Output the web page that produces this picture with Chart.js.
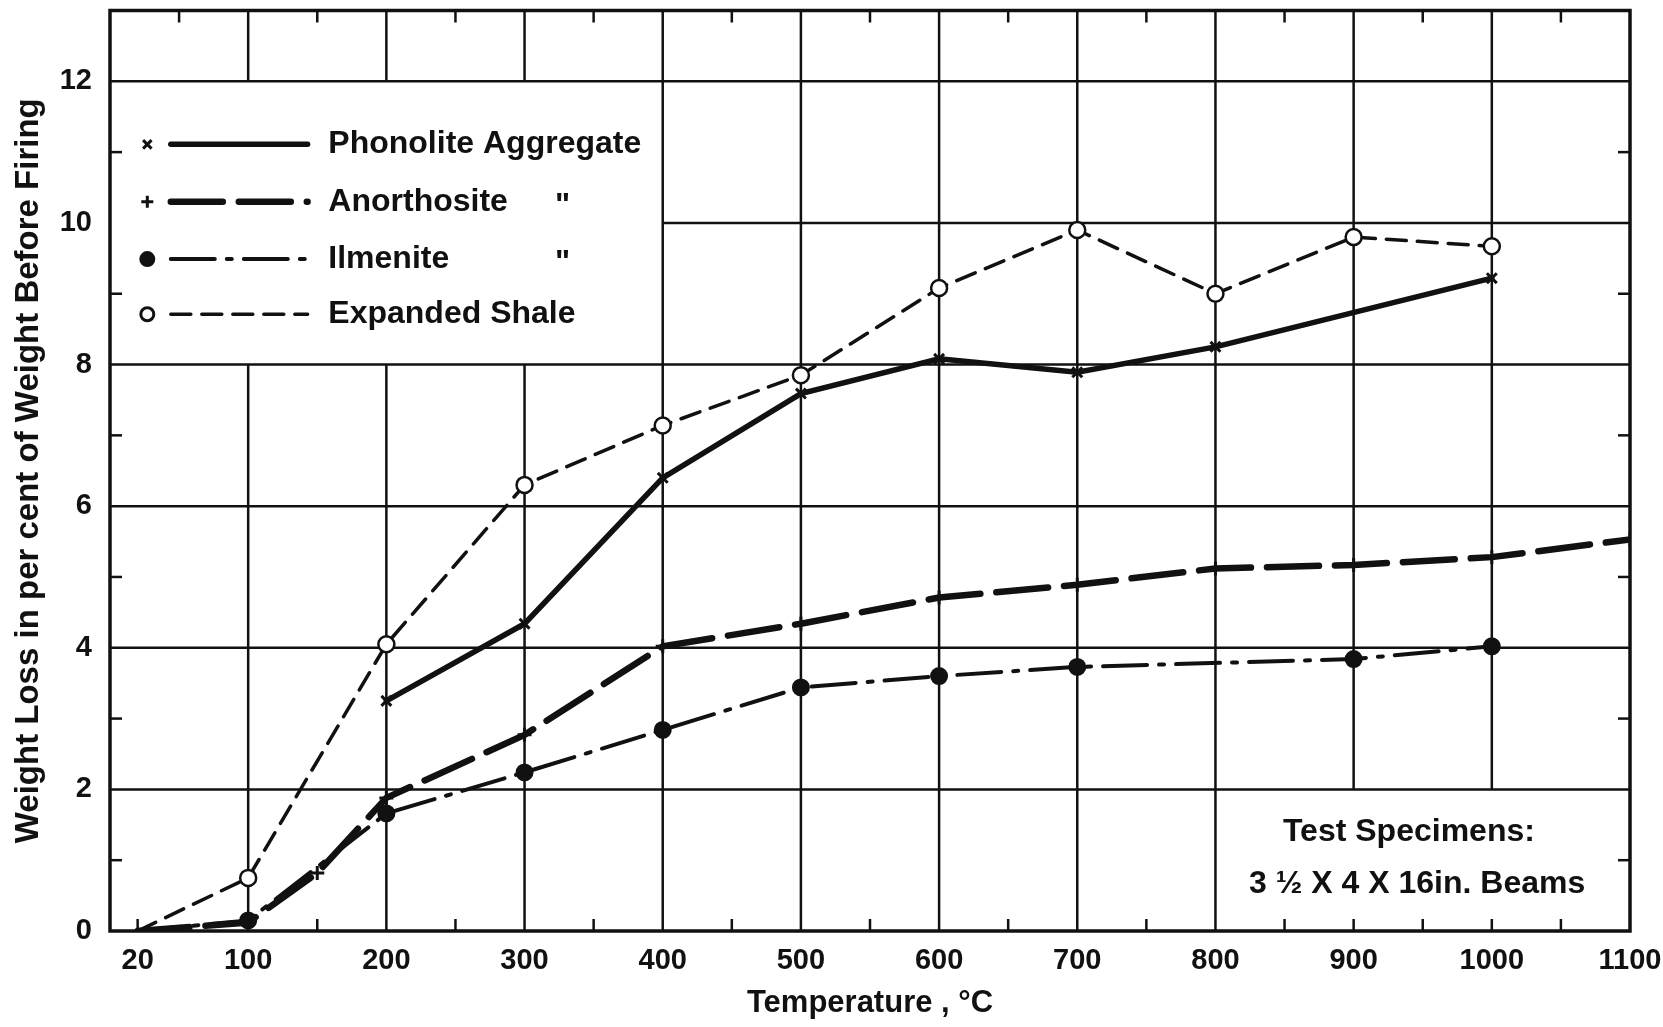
<!DOCTYPE html>
<html>
<head>
<meta charset="utf-8">
<title>Weight Loss on Firing</title>
<script src="https://cdn.jsdelivr.net/npm/chart.js@4.4.1/dist/chart.umd.min.js"></script>
<style>
  html, body { margin: 0; padding: 0; background: #fff; }
  #wrap { width: 1663px; height: 1027px; }
</style>
</head>
<body>
<div id="wrap"><canvas id="lossChart" width="1663" height="1027"></canvas></div>
<script>
// axis ticks
const xTickValues = [20, 100, 200, 300, 400, 500, 600, 700, 800, 900, 1000, 1100];
const yTickValues = [0, 2, 4, 6, 8, 10, 12];

// series (temperature in degC, loss in %)
const phonoliteTemps = [200, 300, 400, 500, 600, 700, 800, 1000];
const phonoliteLoss  = [3.25, 4.34, 6.40, 7.59, 8.08, 7.89, 8.25, 9.22];

const anorthositeTemps = [20, 100, 150, 200, 300, 400, 500, 600, 700, 800, 900, 1000, 1100];
const anorthositeLoss  = [0, 0.12, 0.82, 1.88, 2.77, 4.02, 4.34, 4.71, 4.89, 5.12, 5.17, 5.28, 5.53];

const ilmeniteTemps = [20, 100, 200, 300, 400, 500, 600, 700, 900, 1000];
const ilmeniteLoss  = [0, 0.15, 1.66, 2.24, 2.84, 3.44, 3.60, 3.73, 3.84, 4.02];

const shaleTemps = [20, 100, 200, 300, 400, 500, 600, 700, 800, 900, 1000];
const shaleLoss  = [0, 0.75, 4.05, 6.30, 7.14, 7.85, 9.08, 9.90, 9.00, 9.80, 9.67];

const seriesNames = ['Phonolite Aggregate', 'Anorthosite', 'Ilmenite', 'Expanded Shale'];
const dittoMarks = ['', '"', '"', ''];
const noteLines = ['Test Specimens:', '3 \u00bd X 4 X 16in. Beams'];

const ink = '#111';
const labelFont = 'Liberation Sans, Arial, sans-serif';

function pts(xs, ys) {
    return xs.map((t, i) => ({ x: t, y: ys[i] }));
}

// no marker on the room-temperature start point
function markerSize(r) {
    return ctx => (ctx.raw && ctx.raw.x === 20) ? 0 : r;
}

const datasets = [
    {
        label: seriesNames[0],
        data: pts(phonoliteTemps, phonoliteLoss),
        borderWidth: 5.5,
        borderDash: [],
        pointStyle: 'crossRot',
        pointRadius: markerSize(7),
        pointBorderWidth: 3,
        backgroundColor: ink
    },
    {
        label: seriesNames[1],
        data: pts(anorthositeTemps, anorthositeLoss),
        borderWidth: 6.5,
        borderDash: [52, 16],
        pointStyle: 'cross',
        pointRadius: markerSize(7),
        pointBorderWidth: 3,
        backgroundColor: ink
    },
    {
        label: seriesNames[2],
        data: pts(ilmeniteTemps, ilmeniteLoss),
        borderWidth: 4,
        borderDash: [44, 12, 5, 12],
        pointStyle: 'circle',
        pointRadius: markerSize(8),
        pointBorderWidth: 2,
        backgroundColor: ink
    },
    {
        label: seriesNames[3],
        data: pts(shaleTemps, shaleLoss),
        borderWidth: 3.5,
        borderDash: [20, 11],
        pointStyle: 'circle',
        pointRadius: markerSize(8),
        pointBorderWidth: 2.5,
        backgroundColor: '#fff'
    }
].map(ds => Object.assign({
    showLine: true,
    tension: 0,
    borderColor: ink,
    pointBorderColor: ink,
    pointBackgroundColor: ds.backgroundColor,
    borderCapStyle: 'round'
}, ds));

// ruled paper: grid with the blank legend panel and note panel, inward minor ticks, frame
const paperGrid = {
    id: 'paperGrid',
    beforeDatasetsDraw(chart) {
        const { ctx, scales: { x, y } } = chart;
        const px = v => x.getPixelForValue(v);
        const py = v => y.getPixelForValue(v);
        const seg = (x1, y1, x2, y2) => {
            ctx.beginPath(); ctx.moveTo(x1, y1); ctx.lineTo(x2, y2); ctx.stroke();
        };
        ctx.save();
        ctx.strokeStyle = ink;
        ctx.lineWidth = 2.5;

        [2, 4, 6, 8, 12].forEach(v => seg(px(0), py(v), px(1100), py(v)));
        seg(px(400), py(10), px(1100), py(10));

        for (let t = 100; t <= 1000; t += 100) {
            if (t < 400) {
                seg(px(t), py(0), px(t), py(8));
                seg(px(t), py(12), px(t), py(13));
            } else if (t > 800) {
                seg(px(t), py(2), px(t), py(13));
            } else {
                seg(px(t), py(0), px(t), py(13));
            }
        }

        // minor ticks
        const tick = 12;
        const bottomTicks = [20, 150, 250, 350, 450, 550, 650, 750, 850, 900, 950, 1000, 1050];
        bottomTicks.forEach(t => seg(px(t), py(0), px(t), py(0) - tick));
        for (let t = 50; t < 1100; t += 100) seg(px(t), py(13), px(t), py(13) + tick);
        for (let v = 1; v <= 11; v += 2) {
            seg(px(0), py(v), px(0) + tick, py(v));
            seg(px(1100), py(v), px(1100) - tick, py(v));
        }

        ctx.lineWidth = 3.5;
        ctx.strokeRect(px(0), py(13), px(1100) - px(0), py(0) - py(13));
        ctx.restore();
    },
    afterDatasetsDraw(chart) {
        const { ctx, scales: { x, y } } = chart;
        const px = v => x.getPixelForValue(v);
        const py = v => y.getPixelForValue(v);
        ctx.save();
        ctx.fillStyle = ink;
        ctx.strokeStyle = ink;

        // legend panel
        const rowVals = [11.11, 10.3, 9.49, 8.71];
        chart.data.datasets.forEach((ds, i) => {
            const ry = py(rowVals[i]);
            ctx.save();
            ctx.lineWidth = 3;
            ctx.fillStyle = ds.pointBackgroundColor;
            Chart.helpers.drawPoint(ctx, {
                pointStyle: ds.pointStyle,
                radius: ds.pointStyle === 'circle' ? 6.5 : 6,
                borderWidth: 3,
                rotation: 0
            }, px(27), ry);
            ctx.restore();

            ctx.save();
            ctx.lineWidth = ds.borderWidth;
            ctx.lineCap = 'round';
            ctx.setLineDash(ds.borderDash);
            ctx.beginPath();
            ctx.moveTo(px(44), ry);
            ctx.lineTo(px(143), ry);
            ctx.stroke();
            ctx.restore();

            ctx.font = 'bold 32px ' + labelFont;
            ctx.textBaseline = 'middle';
            ctx.textAlign = 'left';
            ctx.fillText(ds.label, px(158), ry);
            if (dittoMarks[i]) ctx.fillText(dittoMarks[i], px(322), ry + 4);
        });

        // note panel
        ctx.font = 'bold 32px ' + labelFont;
        ctx.textAlign = 'center';
        ctx.textBaseline = 'middle';
        ctx.fillText(noteLines[0], px(940), py(1.39));
        ctx.fillText(noteLines[1], px(946), py(0.66));
        ctx.restore();
    }
};

const ctx = document.getElementById('lossChart').getContext('2d');
new Chart(ctx, {
    type: 'scatter',
    data: { datasets: datasets },
    options: {
        responsive: false,
        animation: false,
        devicePixelRatio: 1,
        layout: { padding: { top: 8, right: 33, bottom: 0, left: 0 } },
        plugins: {
            legend: { display: false },
            tooltip: { enabled: false }
        },
        scales: {
            x: {
                type: 'linear',
                min: 0,
                max: 1100,
                afterBuildTicks: s => { s.ticks = xTickValues.map(v => ({ value: v })); },
                afterFit: s => { s.height = 96; s.paddingLeft = 0; s.paddingRight = 0; },
                grid: { display: false },
                border: { display: false },
                ticks: {
                    color: ink,
                    font: { family: labelFont, size: 29, weight: 'bold' },
                    padding: 5,
                    maxRotation: 0,
                    autoSkip: false,
                    callback: v => String(v)
                },
                title: {
                    display: true,
                    text: 'Temperature , \u00b0C',
                    color: ink,
                    font: { family: labelFont, size: 31, weight: 'bold' },
                    padding: { top: 0, bottom: 5 }
                }
            },
            y: {
                type: 'linear',
                min: 0,
                max: 13,
                afterBuildTicks: s => { s.ticks = yTickValues.map(v => ({ value: v })); },
                afterFit: s => { s.width = 110; s.paddingTop = 0; s.paddingBottom = 0; },
                grid: { display: false },
                border: { display: false },
                ticks: {
                    color: ink,
                    font: { family: labelFont, size: 29, weight: 'bold' },
                    padding: 10,
                    callback: v => String(v)
                },
                title: {
                    display: true,
                    text: 'Weight Loss in per cent of Weight Before Firing',
                    color: ink,
                    font: { family: labelFont, size: 33, weight: 'bold' },
                    padding: { top: 9, bottom: 0 }
                }
            }
        }
    },
    plugins: [paperGrid]
});
</script>
</body>
</html>
